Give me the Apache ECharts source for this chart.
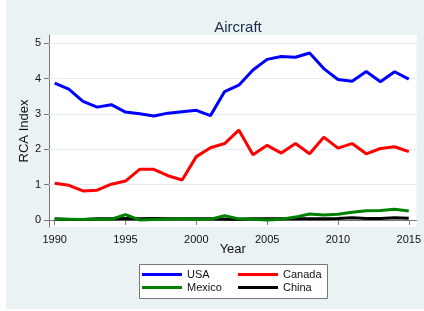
<!DOCTYPE html>
<html><head><meta charset="utf-8">
<script src="https://cdn.jsdelivr.net/npm/echarts@6/dist/echarts.min.js"></script>
<style>
html,body{margin:0;padding:0;background:#fff;}
#bg{position:absolute;left:6px;top:0;width:418px;height:309px;background:#eaf2f3;}
#c{position:absolute;left:0;top:0;width:424px;height:311px;}
</style></head>
<body><div id="bg"></div><div id="c"></div>
<script>
const years = [1990,1991,1992,1993,1994,1995,1996,1997,1998,1999,2000,2001,2002,2003,2004,2005,2006,2007,2008,2009,2010,2011,2012,2013,2014,2015];
const usa = [3.87,3.70,3.35,3.19,3.26,3.05,3.00,2.94,3.02,3.06,3.10,2.95,3.63,3.81,4.24,4.54,4.62,4.60,4.72,4.28,3.97,3.92,4.20,3.91,4.19,3.98];
const canada = [1.04,0.98,0.82,0.84,1.01,1.10,1.43,1.43,1.25,1.13,1.79,2.04,2.16,2.54,1.84,2.11,1.89,2.16,1.87,2.34,2.03,2.16,1.87,2.02,2.07,1.93];
const mexico = [0.02,0.02,0.01,0.02,0.02,0.15,0.00,0.01,0.02,0.03,0.02,0.02,0.12,0.03,0.02,0.00,0.02,0.08,0.17,0.14,0.16,0.22,0.26,0.27,0.30,0.25];
const china = [0.03,0.01,0.01,0.03,0.03,0.04,0.03,0.04,0.03,0.03,0.03,0.03,0.02,0.02,0.03,0.03,0.03,0.03,0.03,0.03,0.04,0.06,0.04,0.04,0.06,0.05];
const xTicks = [1990,1995,2000,2005,2010,2015];
const yTicks = [0,1,2,3,4,5];
const names = ['USA','Canada','Mexico','China'];
const colors = ['#0000ff','#ff0000','#008000','#000000'];
const vals = [usa, canada, mexico, china];

const chart = echarts.init(document.getElementById('c'));
const font = 'Arial, "Liberation Sans", sans-serif';
chart.setOption({
  backgroundColor: 'transparent',
  animation: false,
  title: {text:'Aircraft', left: 233, top: 15, textAlign:'center',
    textStyle:{fontFamily:font, fontSize:15, fontWeight:'normal', color:'#1e2b4c'}},
  grid: {left:49, right:6, top:35, bottom:84, backgroundColor:'#fff', show:true, borderWidth:0},
  xAxis: {type:'value', min:1989.6, max:2015.55,
    name:'Year', nameLocation:'middle', nameGap:16, nameMoveOverlap:false,
    nameTextStyle:{fontFamily:font, fontSize:13, color:'#111'},
    axisLine:{show:true, lineStyle:{color:'#777', width:1}},
    axisTick:{show:true, customValues:xTicks, length:5, lineStyle:{color:'#777'}},
    axisLabel:{customValues:xTicks, fontFamily:font, fontSize:11, color:'#111', margin:7, formatter: v=>String(v)},
    splitLine:{show:false}},
  yAxis: {type:'value', min:-0.2, max:5.23,
    name:'RCA Index', nameLocation:'middle', nameGap:18, nameMoveOverlap:false,
    nameTextStyle:{fontFamily:font, fontSize:13, color:'#111'},
    axisLine:{show:true, lineStyle:{color:'#777', width:1}},
    axisTick:{show:true, customValues:yTicks, length:5, lineStyle:{color:'#777'}},
    axisLabel:{customValues:yTicks, fontFamily:font, fontSize:11, color:'#111', margin:8},
    splitLine:{show:false}},
  legend: [
    {data:['USA','Mexico'], orient:'vertical', left:142, top:269, padding:0, itemWidth:40, itemHeight:3, itemGap:2,
     icon:'rect', textStyle:{fontFamily:font, fontSize:11, color:'#111'}},
    {data:['Canada','China'], orient:'vertical', left:238, top:269, padding:0, itemWidth:40, itemHeight:3, itemGap:2,
     icon:'rect', textStyle:{fontFamily:font, fontSize:11, color:'#111'}}
  ],
  graphic: [{type:'rect', left:139, top:264, z:-1, shape:{width:188, height:34},
    style:{fill:'#fff', stroke:'#777', lineWidth:1}}],
  series: names.map((n,i)=>({
    name:n, type:'line', data: years.map((y,j)=>[y, vals[i][j]]),
    showSymbol:false, symbol:'none', color:colors[i],
    lineStyle:{width:3, color:colors[i]}, z: 10-i,
    markLine: i===0 ? {silent:true, symbol:'none', label:{show:false},
      lineStyle:{color:'#e3ecee', width:1, type:'solid'}, z:1,
      data: yTicks.slice(1).map(v=>({yAxis:v}))} : undefined
  }))
});
</script></body></html>
